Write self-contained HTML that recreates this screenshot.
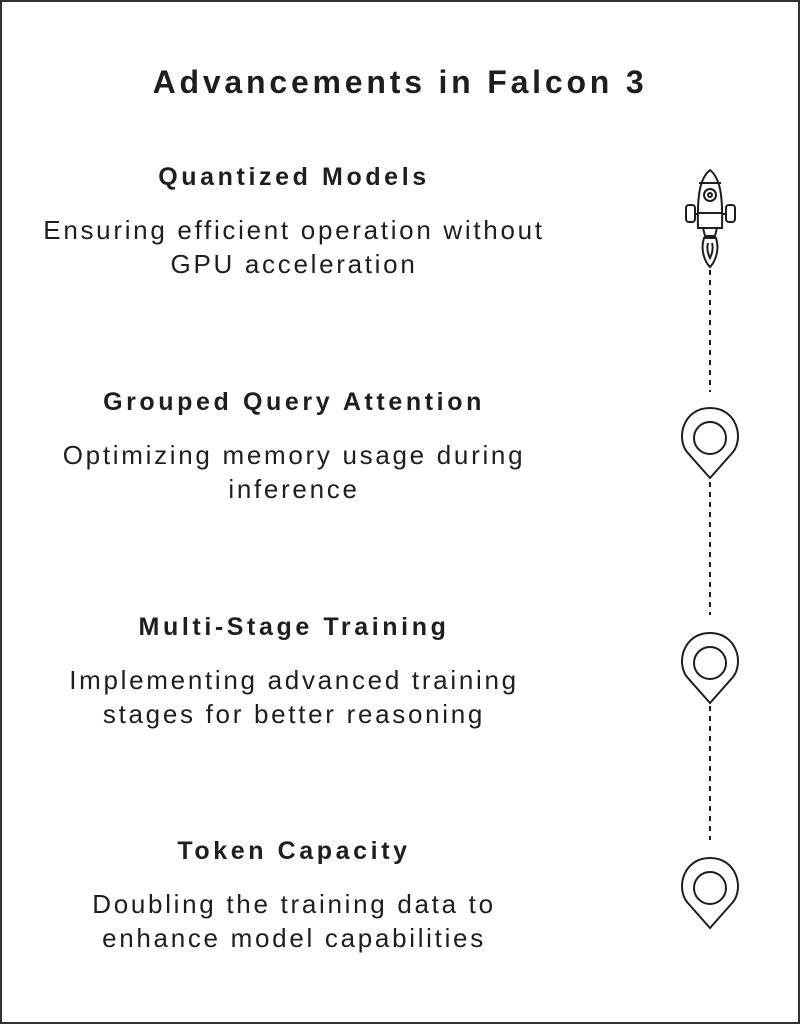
<!DOCTYPE html>
<html><head><style>
html,body{margin:0;padding:0}
body{width:800px;height:1024px;background:#fff;position:relative;overflow:hidden;font-family:"Liberation Sans",sans-serif;color:#1e1e1e}
.frame{position:absolute;left:0;top:0;width:796px;height:1020px;border:2px solid #333}
.t{position:absolute;width:700px;text-align:center;left:-56px}
h1{position:absolute;left:0;width:800px;top:64px;margin:0;text-align:center;font-size:32px;font-weight:bold;letter-spacing:3.8px}
.h{font-weight:bold;font-size:25px;letter-spacing:3.6px}
.d{font-size:26px;line-height:34px;letter-spacing:2.7px}
</style></head><body>
<div class="frame"></div>
<h1>Advancements in Falcon 3</h1>
<div class="t h" style="top:163px">Quantized Models</div>
<div class="t d" style="top:213px">Ensuring efficient operation without<br>GPU acceleration</div>
<div class="t h" style="top:388px">Grouped Query Attention</div>
<div class="t d" style="top:438px">Optimizing memory usage during<br>inference</div>
<div class="t h" style="top:613px">Multi-Stage Training</div>
<div class="t d" style="top:663px">Implementing advanced training<br>stages for better reasoning</div>
<div class="t h" style="top:837px">Token Capacity</div>
<div class="t d" style="top:887px">Doubling the training data to<br>enhance model capabilities</div>
<svg width="800" height="1024" style="position:absolute;left:0;top:0" fill="none" stroke="#1e1e1e" stroke-width="2">
<g stroke-dasharray="5,5">
<line x1="710" y1="270" x2="710" y2="392"/>
<line x1="710" y1="482" x2="710" y2="615"/>
<line x1="710" y1="706" x2="710" y2="840"/>
</g>
<path d="M710 170 C700 178 697 195 698 228 L722 228 C723 195 720 178 710 170Z"/>
<line x1="699" y1="183" x2="721" y2="183"/>
<circle cx="710" cy="195" r="6"/><circle cx="710" cy="195" r="2"/>
<line x1="698" y1="213" x2="722" y2="213"/>
<rect x="686" y="205" width="9" height="17" rx="3"/>
<rect x="726" y="205" width="9" height="17" rx="3"/>
<line x1="695" y1="214" x2="698" y2="214"/><line x1="722" y1="214" x2="726" y2="214"/>
<path d="M703 228 L717 228 L715 236 L705 236Z"/>
<path d="M704 238 C700 250 705 262 710 267 C715 262 720 250 716 238Z"/>
<path d="M708 243 C706 250 709 256 710 258 C711 256 714 250 712 243"/>
<g id="p">
<path d="M710 478 L687 452 C676 438 683 408 710 408 C737 408 744 438 733 452 Z"/>
<circle cx="710" cy="438" r="16"/>
</g>
<use href="#p" y="225"/>
<use href="#p" y="450"/>
</svg>
</body></html>
